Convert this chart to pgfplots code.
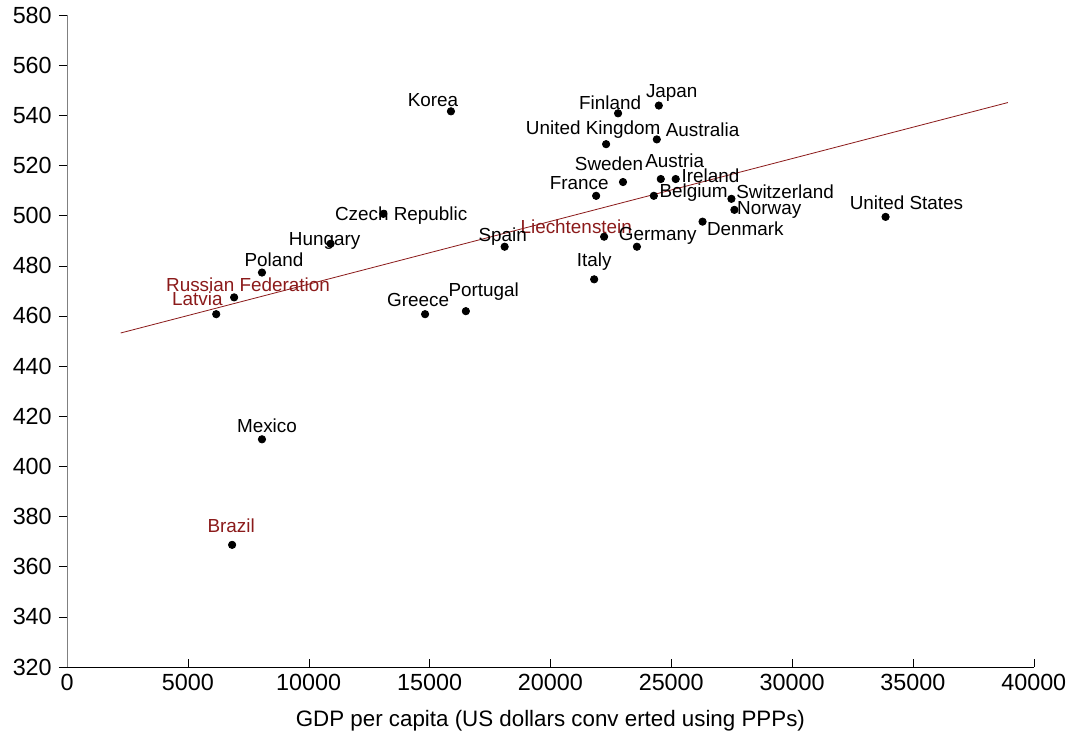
\documentclass[border=0pt]{standalone}
\usepackage{pgfplots}
\pgfplotsset{compat=1.18}
\usepackage{fontspec}
\setmainfont{Liberation Sans}
\definecolor{dred}{HTML}{8B1A1A}
\begin{document}
\begin{tikzpicture}
\begin{axis}[scale only axis, width=476pt, height=321pt,
 xmin=0,xmax=40000,ymin=320,ymax=580,
 axis x line*=bottom, axis y line*=left,
 y axis line style={gray}, x axis line style={black},
 xtick={0,5000,...,40000}, ytick={320,340,...,580},
 scaled x ticks=false, xticklabel style={/pgf/number format/1000 sep={}},
 /pgf/number format/assume math mode=true,
 xtick align=inside, ytick align=outside, tick style={black}, major tick length=4pt,
 ticklabel style={font=\fontsize{11.5}{12}\selectfont},
 xlabel={GDP per capita (US dollars conv erted using PPPs)},
 xlabel style={font=\fontsize{11}{12}\selectfont, yshift=-3pt},
 clip=false]
\addplot[only marks, mark=*, mark size=1.8pt, black] coordinates {
(15885,541.6)(22800,540.8)(24486,543.9)(22305,528.5)(24403,530.4)(23004,513.4)
(24568,514.6)(25185,514.6)(21893,507.9)(24280,507.9)(27490,506.7)(27613,502.3)
(33868,499.5)(26296,497.6)(13086,500.7)(10905,488.8)(22222,491.6)(18107,487.6)
(23580,487.6)(8066,477.3)(21811,474.6)(6914,467.4)(6173,460.7)(14815,460.7)
(16502,461.9)(8066,410.8)(6831,368.7)};
\addplot[dred, no marks] coordinates {(2222,453.2)(38930,545.1)};
\begin{scope}[every node/.style={font=\fontsize{9.3}{10}\selectfont, inner sep=0pt}]
\node at (axis cs:15144,545.9) {Korea};
\node at (axis cs:22469,545.1) {Finland};
\node at (axis cs:25021,549.1) {Japan};
\node at (axis cs:21770,534.4) {United Kingdom};
\node at (axis cs:26296,534.4) {Australia};
\node at (axis cs:22428,520.5) {Sweden};
\node at (axis cs:25144,521.7) {Austria};
\node at (axis cs:26626,516.1) {Ireland};
\node at (axis cs:21193,513.0) {France};
\node at (axis cs:25926,509.0) {Belgium};
\node at (axis cs:29712,509.4) {Switzerland};
\node at (axis cs:29053,502.3) {Norway};
\node at (axis cs:34733,505.1) {United States};
\node at (axis cs:28066,494.8) {Denmark};
\node at (axis cs:13827,500.0) {Czech Republic};
\node at (axis cs:10658,490.0) {Hungary};
\node[dred] at (axis cs:21070,495.6) {Liechtenstein};
\node at (axis cs:18025,491.6) {Spain};
\node at (axis cs:24444,492.0) {Germany};
\node at (axis cs:8560,482.5) {Poland};
\node at (axis cs:21811,481.7) {Italy};
\node[dred] at (axis cs:7490,472.4) {Russian Federation};
\node[dred] at (axis cs:5391,466.8) {Latvia};
\node at (axis cs:14527,466.4) {Greece};
\node at (axis cs:17243,469.6) {Portugal};
\node at (axis cs:8272,416.2) {Mexico};
\node[dred] at (axis cs:6790,376.2) {Brazil};
\end{scope}
\end{axis}
\path ([xshift=-33pt]current axis.west) -- +(0,1pt);
\end{tikzpicture}
\end{document}
